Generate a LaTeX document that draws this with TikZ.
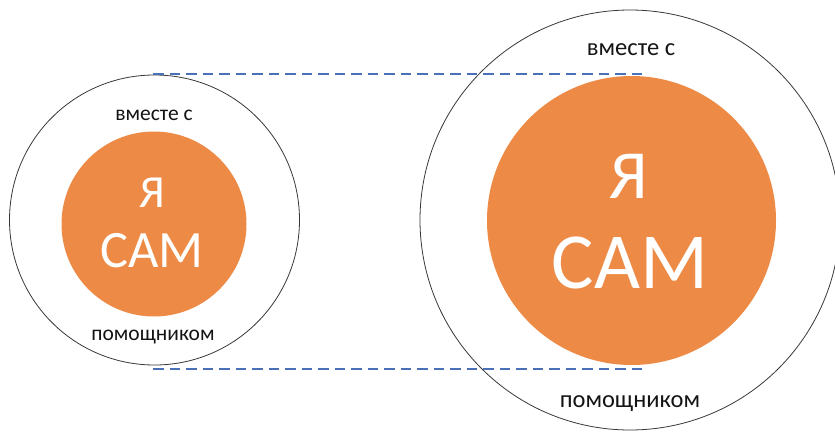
\documentclass[tikz,border=0pt]{standalone}
\usepackage{fontspec}
\setmainfont{Carlito}
\definecolor{orng}{RGB}{237,139,70}
\definecolor{dashblue}{RGB}{74,112,184}
\definecolor{ink}{RGB}{20,20,20}
\tikzset{
  outerring/.style={circle,draw=ink!85,line width=0.8pt,inner sep=0pt},
  core/.style={circle,fill=orng,inner sep=0pt},
  guide/.style={draw=dashblue,line width=1.5pt,dash pattern=on 10.5pt off 6pt},
  lbl/.style={anchor=base,inner sep=0pt,text=ink},
  big/.style={anchor=base,inner sep=0pt,text=white}
}
\begin{document}
\begin{tikzpicture}[x=1pt,y=-1pt]
\useasboundingbox (0,0) rectangle (835,431);
% left
\node[outerring,minimum size=290pt] (oL) at (154.5,220) {};
\node[core,minimum size=185pt] (cL) at (154,224) {};
\node[lbl,font=\fontsize{21.5}{24}\selectfont] (tL) at (154,120) {вместе с};
\node[lbl,font=\fontsize{21.5}{24}\selectfont] (bL) at (153,340) {помощником};
\node[big,font=\fontsize{46}{50}\selectfont] (yaL) at (152.5,207) {Я};
\node[big,font=\fontsize{52.5}{56}\selectfont] (samL) at (152,267) {САМ};
% right
\node[outerring,minimum size=420pt] (oR) at (630,220) {};
\node[core,minimum size=289pt] (cR) at (631.5,220.5) {};
\node[lbl,font=\fontsize{24.5}{28}\selectfont] (tR) at (631,55) {вместе с};
\node[lbl,font=\fontsize{24.5}{28}\selectfont] (bR) at (630,407) {помощником};
\node[big,font=\fontsize{69}{72}\selectfont] (yaR) at (629,198) {Я};
\node[big,font=\fontsize{79.5}{83}\selectfont] (samR) at (630,288) {САМ};
% guides
\coordinate (g1a) at (153,74);
\coordinate (g1b) at (642,74);
\coordinate (g2a) at (153,369);
\coordinate (g2b) at (642,369);
\draw[guide] (g1a) -- (g1b);
\draw[guide] (g2a) -- (g2b);
\end{tikzpicture}
\end{document}
